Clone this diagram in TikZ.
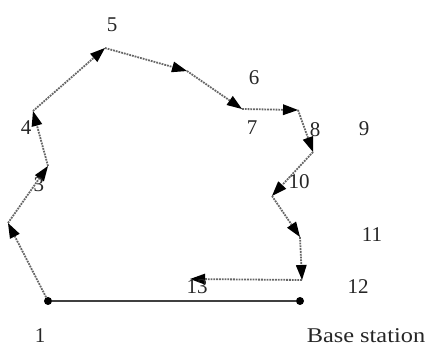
\documentclass[tikz,border=0pt]{standalone}
\usepackage{fontspec}
\setmainfont{Liberation Serif}
\usetikzlibrary{arrows.meta}
\begin{document}
\begin{tikzpicture}[x=1pt,y=-1pt,
  hop/.style={draw=black!60, line width=1.8pt, densely dotted,
    -{Triangle[length=15pt,width=11pt,fill=black,line width=0pt]}},
  lbl/.style={font=\fontsize{21}{24}\selectfont, inner sep=0pt, text=black!85},
  dot/.style={circle, fill=black, inner sep=0pt, minimum size=8pt},
  base/.style={draw=black!75, line width=2.8pt}]
\useasboundingbox (0,0) rectangle (434,347);
\node[dot] (v1) at (48,301) {};
\node[dot] (bs) at (300,301) {};
\coordinate (v2) at (8,223);
\coordinate (v3) at (48,166);
\coordinate (v4) at (33,111);
\coordinate (v5) at (105,48);
\coordinate (v6) at (187,71);
\coordinate (v7) at (242,109);
\coordinate (v8) at (298,110);
\coordinate (v9) at (313,152);
\coordinate (v10) at (272,196);
\coordinate (v11) at (300,237);
\coordinate (v12) at (302,280);
\coordinate (v13) at (190,279);
\draw[base] (v1) -- (bs);
\draw[hop] (v1) -- (v2);
\draw[hop] (v2) -- (v3);
\draw[hop] (v3) -- (v4);
\draw[hop] (v4) -- (v5);
\draw[hop] (v5) -- (v6);
\draw[hop] (v6) -- (v7);
\draw[hop] (v7) -- (v8);
\draw[hop] (v8) -- (v9);
\draw[hop] (v9) -- (v10);
\draw[hop] (v10) -- (v11);
\draw[hop] (v11) -- (v12);
\draw[hop] (v12) -- (v13);
\node[lbl] (l1) at (40,336) {1};
\node[lbl] (l3) at (39,185) {3};
\node[lbl] (l4) at (26,128) {4};
\node[lbl] (l5) at (112,25) {5};
\node[lbl] (l6) at (254,78) {6};
\node[lbl] (l7) at (252,128) {7};
\node[lbl] (l8) at (315,130) {8};
\node[lbl] (l9) at (364,129) {9};
\node[lbl] (l10) at (299,182) {10};
\node[lbl] (l11) at (372,235) {11};
\node[lbl] (l12) at (358,287) {12};
\node[lbl] (l13) at (197,287) {13};
\node[lbl, xscale=1.16] (lbs) at (366,336) {Base station};
\end{tikzpicture}
\end{document}
